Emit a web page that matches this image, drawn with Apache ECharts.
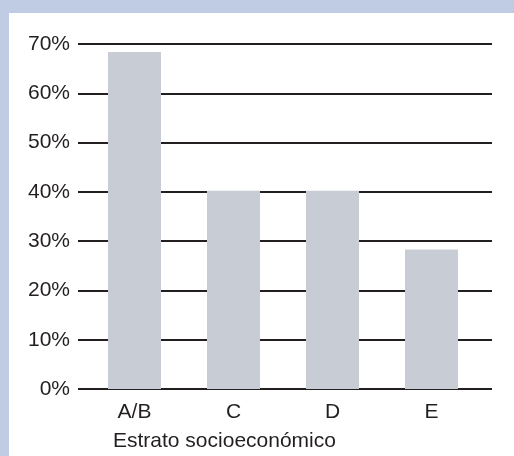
<!DOCTYPE html>
<html>
<head>
<meta charset="utf-8">
<script src="https://cdn.jsdelivr.net/npm/echarts@6/dist/echarts.min.js"></script>
<style>
  html, body { margin: 0; padding: 0; background: #bfcce3; }
  #wrap { position: relative; width: 514px; height: 456px; background: #bfcce3; overflow: hidden; }
  #inner { position: absolute; left: 9px; top: 13px; width: 505px; height: 443px; background: #ffffff; }
  #chart { position: absolute; left: 0; top: 0; width: 514px; height: 456px; }
</style>
</head>
<body>
<div id="wrap">
  <div id="inner"></div>
  <div id="chart"></div>
</div>
<script>
const categories = ['A/B', 'C', 'D', 'E'];
const values = [68.4, 40.2, 40.2, 28.3];
const axisTitle = 'Estrato socioeconómico';
const yMin = 0, yMax = 70, yStep = 10;

const chart = echarts.init(document.getElementById('chart'), null, { renderer: 'canvas' });
const textColor = '#231f20';
const fontFamily = '"Liberation Sans", Arial, Helvetica, sans-serif';

chart.setOption({
  backgroundColor: 'transparent',
  animation: false,
  grid: [
    { left: 78, right: 22, top: 44, bottom: 67, containLabel: false },
    { left: 85, width: 396, top: 44, bottom: 67, containLabel: false }
  ],
  xAxis: [
    { type: 'category', gridIndex: 0, data: categories, show: false },
    {
      type: 'category', gridIndex: 1, data: categories,
      axisLine: { show: false }, axisTick: { show: false },
      axisLabel: { color: textColor, fontSize: 21, fontFamily: fontFamily, margin: 13 }
    }
  ],
  yAxis: [
    {
      type: 'value', gridIndex: 0, min: yMin, max: yMax, interval: yStep,
      axisLine: { show: false }, axisTick: { show: false },
      axisLabel: { color: textColor, fontSize: 21, fontFamily: fontFamily, margin: 8, formatter: '{value}%' },
      splitLine: { show: true, lineStyle: { color: textColor, width: 2 } }
    },
    {
      type: 'value', gridIndex: 1, min: yMin, max: yMax, interval: yStep,
      show: false, splitLine: { show: false }
    }
  ],
  graphic: [
    {
      type: 'text', left: 113, top: 431,
      style: { text: axisTitle, fill: textColor, font: '21px ' + fontFamily }
    }
  ],
  series: [
    {
      type: 'bar', xAxisIndex: 1, yAxisIndex: 1,
      data: values, barWidth: 53,
      itemStyle: { color: '#c8ccd5' },
      z: 3
    }
  ]
});
</script>
</body>
</html>
